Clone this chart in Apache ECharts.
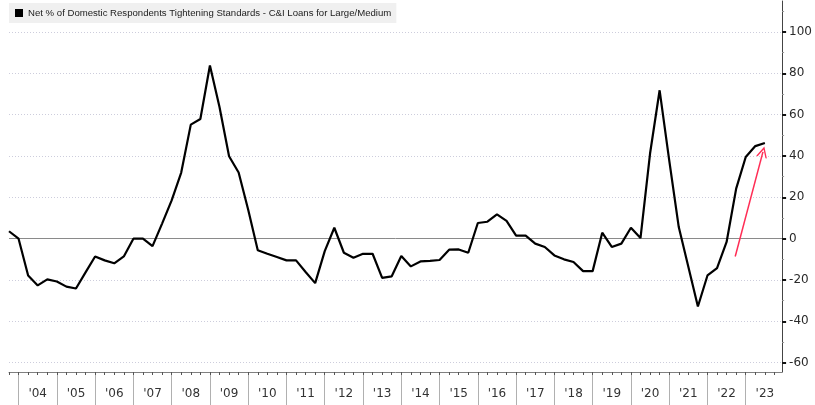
<!DOCTYPE html>
<html>
<head>
<meta charset="utf-8">
<script src="https://cdn.jsdelivr.net/npm/echarts@6/dist/echarts.min.js"></script>
<style>
  html, body { margin: 0; padding: 0; background: #fff; }
  #chart { width: 815px; height: 405px; }
</style>
</head>
<body>
<div id="chart"></div>
<script>
// 季度数据, 下标 0 = 2003 Q4, 下标 79 = 2023 Q3
const seriesName = 'Net % of Domestic Respondents Tightening Standards - C&I Loans for Large/Medium'
const tightening = [
  3.6, 0, -17.8, -22.6, -19.7, -20.7, -23.2, -24.1, -16.3, -8.6,
  -10.5, -11.9, -8.6, 0, 0, -3.6, 7.3, 18.5, 32.0, 55.2,
  57.9, 83.8, 63.7, 39.9, 32.0, 14.0, -5.6, -7.3, -8.9, -10.5,
  -10.5, -16.1, -21.5, -6.0, 5.3, -6.8, -9.2, -7.3, -7.3, -19.0,
  -18.2, -8.4, -13.4, -11.0, -10.7, -10.3, -5.3, -5.2, -6.8, 7.6,
  8.2, 11.8, 8.6, 1.5, 1.5, -2.4, -4.0, -8.1, -10.0, -11.3,
  -15.7, -15.7, 2.9, -4.0, -2.4, 5.3, 0.3, 41.2, 71.8, 38.0,
  5.6, -13.6, -32.8, -17.8, -14.2, -1.6, 24.2, 39.5, 44.8, 46.3
]
const yearLabels = ["'04", "'05", "'06", "'07", "'08", "'09", "'10", "'11", "'12", "'13",
  "'14", "'15", "'16", "'17", "'18", "'19", "'20", "'21", "'22", "'23"]
const yTicks = [-60, -40, -20, 0, 20, 40, 60, 80, 100]
const yMinorTicks = [-50, -30, -10, 10, 30, 50, 70, 90, 110]
// 红色箭头 (数据坐标)
const arrowFrom = [75.9, -8.6]
const arrowTo = [78.8, 42.0]

// 年份分隔线在每年第一季度, 标签在年中
const yearStarts = yearLabels.map((_, k) => 1 + 4 * k)
const yearMids = yearLabels.map((_, k) => 3 + 4 * k)
const quarterTicks = []
for (let i = 0; i <= 80; i++) quarterTicks.push(i)

const xMin = 0
const xMax = 80.8
const yMin = -64.5
const yMax = 115

const axisFont = 'DejaVu Sans'

let myChart = echarts.init(document.getElementById('chart'))
let option = {
  animation: false,
  backgroundColor: '#fff',
  grid: { left: 9, right: 29, top: 1, bottom: 33 },
  legend: {
    left: 9,
    top: 3,
    padding: [5, 5, 5, 6],
    backgroundColor: '#f0f0f0',
    icon: 'rect',
    itemWidth: 8,
    itemHeight: 8,
    textStyle: { fontFamily: 'Liberation Sans', fontSize: 9.6, color: '#222' },
    data: [seriesName]
  },
  xAxis: [
    {
      type: 'value',
      position: 'bottom',
      min: xMin,
      max: xMax,
      axisLine: { show: true, onZero: false, lineStyle: { color: '#808080', width: 1 } },
      axisTick: {
        show: true,
        customValues: yearStarts,
        length: 33,
        lineStyle: { color: '#b0b0b0', width: 1 }
      },
      axisLabel: {
        show: true,
        customValues: yearMids,
        margin: 16,
        fontFamily: axisFont,
        fontSize: 12,
        color: '#333',
        formatter: v => yearLabels[Math.round((v - 3) / 4)]
      },
      splitLine: { show: false }
    },
    {
      type: 'value',
      position: 'bottom',
      min: xMin,
      max: xMax,
      axisLine: { show: false, onZero: false },
      axisTick: {
        show: true,
        customValues: quarterTicks,
        length: 3,
        lineStyle: { color: '#555', width: 1 }
      },
      axisLabel: { show: false },
      splitLine: { show: false }
    }
  ],
  yAxis: [
    {
      type: 'value',
      position: 'right',
      min: yMin,
      max: yMax,
      axisLine: { show: true, onZero: false, lineStyle: { color: '#444', width: 1 } },
      axisTick: {
        show: true,
        customValues: yTicks,
        length: 4,
        lineStyle: { color: '#111', width: 2 }
      },
      axisLabel: {
        show: true,
        customValues: yTicks,
        margin: 7,
        fontFamily: axisFont,
        fontSize: 12,
        color: '#2a2a2a'
      },
      splitLine: {
        show: true,
        lineStyle: { color: '#cdcddc', width: 1, type: [1, 2] }
      }
    },
    {
      type: 'value',
      position: 'right',
      min: yMin,
      max: yMax,
      axisLine: { show: false, onZero: false },
      axisTick: {
        show: true,
        customValues: yMinorTicks,
        length: 2,
        lineStyle: { color: '#999', width: 1 }
      },
      axisLabel: { show: false },
      splitLine: { show: false }
    }
  ],
  series: [
    {
      name: seriesName,
      type: 'line',
      xAxisIndex: 0,
      yAxisIndex: 0,
      data: tightening.map((v, i) => [i, v]),
      showSymbol: false,
      symbol: 'none',
      color: '#000',
      lineStyle: { color: '#000', width: 2.2 },
      z: 5,
      markLine: {
        silent: true,
        symbol: ['none', 'none'],
        label: { show: false },
        data: [
          {
            yAxis: 0,
            lineStyle: { color: '#8a8a8a', width: 1, type: 'solid' }
          },
          [
            {
              coord: arrowFrom,
              symbol: 'none',
              lineStyle: { color: '#ff2d55', width: 1.5, type: 'solid' }
            },
            {
              coord: arrowTo,
              symbol: 'path://M0,12 L6,0 L12,12 L10.4,12 L6,3.2 L1.6,12 Z',
              symbolSize: [11, 11]
            }
          ]
        ]
      }
    }
  ]
}
myChart.setOption(option)
</script>
</body>
</html>
